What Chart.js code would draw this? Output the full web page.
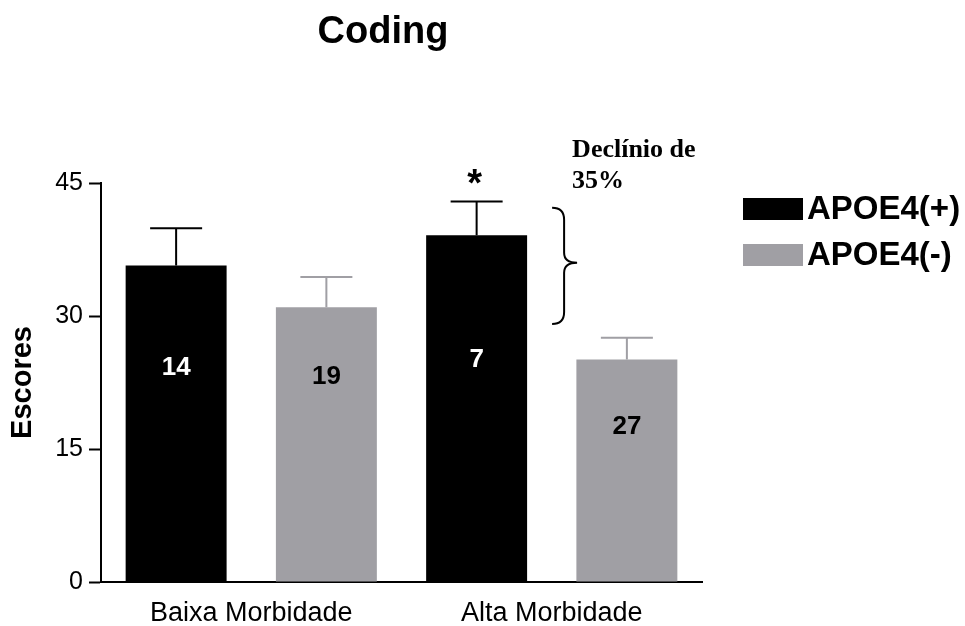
<!DOCTYPE html>
<html>
<head>
<meta charset="utf-8">
<title>Coding</title>
<script src="https://cdn.jsdelivr.net/npm/chart.js@4.4.1/dist/chart.umd.min.js"></script>
<style>
  body { margin: 0; background: #fff; }
  #wrap { width: 965px; height: 626px; position: relative; }
</style>
</head>
<body>
<div id="wrap"><canvas id="codingChart"></canvas></div>
<script>
const groups = ['Baixa Morbidade', 'Alta Morbidade'];
const seriesNames = ['APOE4(+)', 'APOE4(-)'];
const apoePos = [35.7, 39.1];
const apoeNeg = [31.0, 25.1];
const apoePosErr = [4.2, 3.8];
const apoeNegErr = [3.4, 2.45];
const apoePosN = [14, 7];
const apoeNegN = [19, 27];
const yTicks = [0, 15, 30, 45];

const SANS = 'Liberation Sans, Arial, sans-serif';
const SERIF = 'Liberation Serif, Times New Roman, serif';
const BLACK = '#000000';
const GRAY = '#a09fa4';

Chart.defaults.font.family = SANS;
Chart.defaults.color = '#000';

// where the n labels sit inside each bar (score units)
const nLabelY = [[24.1, 25.1], [23.1, 17.5]];

const extras = {
    id: 'extras',
    afterDatasetsDraw(chart) {
        const ctx = chart.ctx;
        const y = chart.scales.y;
        const errs = [apoePosErr, apoeNegErr];
        const counts = [apoePosN, apoeNegN];
        const textCol = ['#fff', '#000'];

        chart.data.datasets.forEach((ds, di) => {
            const meta = chart.getDatasetMeta(di);
            meta.data.forEach((bar, i) => {
                const top = y.getPixelForValue(ds.data[i] + errs[di][i]);
                ctx.save();
                ctx.strokeStyle = ds.backgroundColor;
                ctx.lineWidth = 2;
                ctx.beginPath();
                ctx.moveTo(bar.x, bar.y);
                ctx.lineTo(bar.x, top);
                ctx.moveTo(bar.x - 26, top);
                ctx.lineTo(bar.x + 26, top);
                ctx.stroke();

                ctx.fillStyle = textCol[di];
                ctx.font = 'bold 26px ' + SANS;
                ctx.textAlign = 'center';
                ctx.textBaseline = 'middle';
                ctx.fillText(String(counts[di][i]), bar.x, y.getPixelForValue(nLabelY[di][i]));
                ctx.restore();
            });
        });

        // significance star over the high-morbidity APOE4(+) bar
        const hi = chart.getDatasetMeta(0).data[1];
        const hiTop = y.getPixelForValue(apoePos[1] + apoePosErr[1]);
        ctx.save();
        ctx.fillStyle = '#000';
        ctx.font = 'bold 38px ' + SANS;
        ctx.textAlign = 'center';
        ctx.textBaseline = 'alphabetic';
        ctx.fillText('*', hi.x - 2, hiTop - 6);

        // curly brace between the two high-morbidity bars
        const x0 = hi.x + hi.width / 2 + 25;
        const xm = x0 + 12;
        const xt = x0 + 25;
        const yTop = y.getPixelForValue(42.2);
        const yMid = y.getPixelForValue(36.0);
        const yBot = y.getPixelForValue(29.1);
        ctx.strokeStyle = '#000';
        ctx.lineWidth = 2;
        ctx.beginPath();
        ctx.moveTo(x0, yTop);
        ctx.quadraticCurveTo(xm, yTop, xm, yTop + 12);
        ctx.lineTo(xm, yMid - 10);
        ctx.quadraticCurveTo(xm, yMid, xt, yMid);
        ctx.quadraticCurveTo(xm, yMid, xm, yMid + 10);
        ctx.lineTo(xm, yBot - 12);
        ctx.quadraticCurveTo(xm, yBot, x0, yBot);
        ctx.stroke();

        ctx.font = 'bold 26px ' + SERIF;
        ctx.textAlign = 'left';
        ctx.fillText('Declínio de', x0 + 20, 157);
        ctx.fillText('35%', x0 + 20, 188);

        // title
        ctx.font = 'bold 38px ' + SANS;
        ctx.textAlign = 'center';
        ctx.fillText('Coding', 383, 43);

        // legend
        ctx.font = 'bold 33px ' + SANS;
        ctx.textBaseline = 'middle';
        ctx.textAlign = 'left';
        const rows = [198, 244];
        chart.data.datasets.forEach((ds, di) => {
            ctx.fillStyle = ds.backgroundColor;
            ctx.fillRect(743, rows[di], 60, 22);
            ctx.fillStyle = '#000';
            ctx.fillText(ds.label, 807, rows[di] + 12);
        });
        ctx.restore();
    }
};

const ctx = document.getElementById('codingChart').getContext('2d');
new Chart(ctx, {
    type: 'bar',
    data: {
        labels: groups,
        datasets: [
            { label: seriesNames[0], data: apoePos, backgroundColor: BLACK },
            { label: seriesNames[1], data: apoeNeg, backgroundColor: GRAY }
        ]
    },
    options: {
        responsive: true,
        maintainAspectRatio: false,
        animation: false,
        categoryPercentage: 1.0,
        barPercentage: 0.672,
        layout: { padding: { left: 0, top: 183, right: 263, bottom: 0 } },
        plugins: {
            legend: { display: false },
            title: { display: false },
            tooltip: { enabled: false }
        },
        scales: {
            x: {
                grid: { drawOnChartArea: false, drawTicks: false },
                border: { color: '#000', width: 2 },
                ticks: { padding: 15, font: { size: 27 }, color: '#000' },
                afterFit: (s) => { s.height = 44; }
            },
            y: {
                min: 0,
                max: 45,
                grid: { drawOnChartArea: false, drawTicks: true, tickLength: 12, color: '#000', tickWidth: 2 },
                border: { color: '#000', width: 2 },
                ticks: { padding: 6, font: { size: 25 }, color: '#000' },
                afterBuildTicks: (axis) => { axis.ticks = yTicks.map(v => ({ value: v })); },
                afterFit: (s) => { s.width = 101; },
                title: {
                    display: true,
                    text: 'Escores',
                    font: { size: 29, weight: 'bold' },
                    color: '#000',
                    padding: { top: 6, bottom: 0 }
                }
            }
        }
    },
    plugins: [extras]
});
</script>
</body>
</html>
